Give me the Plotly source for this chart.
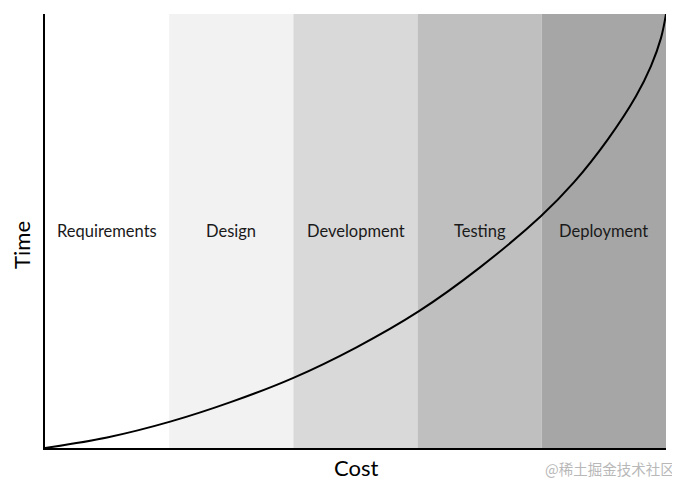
import plotly.graph_objects as go

phases = ["Requirements", "Design", "Development", "Testing", "Deployment"]
band_colors = ["#ffffff", "#f2f2f2", "#d9d9d9", "#bfbfbf", "#a6a6a6"]

cost = [0.0, 0.5, 1.008, 1.5, 2.0, 2.508, 3.008, 3.5, 3.992,
        4.258, 4.532, 4.758, 4.879, 4.960, 5.0]
time = [0.0, 2.42, 6.07, 10.62, 16.17, 23.21, 31.48, 41.57, 53.42,
        61.2, 71.13, 81.06, 88.0, 94.5, 100.0]

FONT = "Lato, 'Open Sans', sans-serif"

fig = go.Figure()

shapes = []
for i, c in enumerate(band_colors):
    shapes.append(dict(type="rect", xref="x", yref="paper", x0=i, x1=i + 1, y0=0, y1=1,
                       fillcolor=c, line=dict(width=0), layer="below"))

fig.add_trace(go.Scatter(x=cost, y=time, mode="lines",
                         line=dict(color="black", width=2, shape="spline", smoothing=1.0),
                         hoverinfo="skip", showlegend=False))

annotations = []
for i, p in enumerate(phases):
    annotations.append(dict(x=i + 0.5, y=50, xref="x", yref="y", text=p, showarrow=False,
                            font=dict(family=FONT, size=16.5, color="#1a1a1a")))

annotations += [
    dict(x=0.5, y=-0.046, xref="paper", yref="paper", text="Cost", showarrow=False,
         yanchor="middle", font=dict(family=FONT, size=22, color="black")),
    dict(x=-0.037, y=0.468, xref="paper", yref="paper", text="Time", showarrow=False,
         textangle=-90, xanchor="center", yanchor="middle",
         font=dict(family=FONT, size=22, color="black")),
    dict(x=1.0177, y=-0.048, xref="paper", yref="paper", text="@稀土掘金技术社区", showarrow=False,
         xanchor="right", yanchor="middle",
         font=dict(family="'Noto Sans CJK SC', sans-serif", size=14.5, color="#b8b8b8")),
]

fig.update_layout(
    width=672, height=481,
    margin=dict(l=37, r=14, t=6, b=41),
    paper_bgcolor="white", plot_bgcolor="white",
    shapes=shapes,
    annotations=annotations,
    xaxis=dict(range=[0, 5], showgrid=False, zeroline=False, showticklabels=False, ticks="",
               showline=True, linecolor="black", linewidth=2, fixedrange=True),
    yaxis=dict(range=[0, 100], showgrid=False, zeroline=False, showticklabels=False, ticks="",
               showline=True, linecolor="black", linewidth=2, fixedrange=True),
)

fig.write_html("out.html")
